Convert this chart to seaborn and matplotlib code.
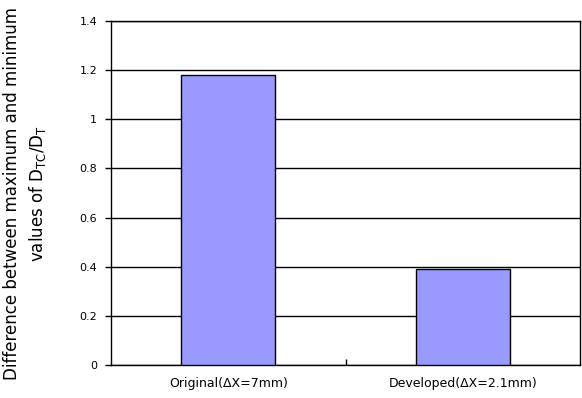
import matplotlib
matplotlib.use("Agg")
import matplotlib.pyplot as plt
import seaborn as sns
import pandas as pd
from matplotlib.ticker import FixedLocator

categories = ["Original(ΔX=7mm)", "Developed(ΔX=2.1mm)"]
values = [1.18, 0.39]
yticks = [0, 0.2, 0.4, 0.6, 0.8, 1, 1.2, 1.4]
ytick_labels = ["0", "0.2", "0.4", "0.6", "0.8", "1", "1.2", "1.4"]

sns.set_theme(style="white")
plt.rcParams['font.family'] = ['DejaVu Sans']
plt.rcParams['text.color'] = 'black'
plt.rcParams['axes.labelcolor'] = 'black'
plt.rcParams['xtick.color'] = 'black'
plt.rcParams['ytick.color'] = 'black'

df = pd.DataFrame({"cat": categories, "val": values})

fig = plt.figure(figsize=(5.82, 3.98), dpi=100)
ax = fig.add_axes([111/582, 33/398, 469/582, 344/398])

sns.barplot(data=df, x="cat", y="val", color="#9999FF", saturation=1,
            width=0.4, edgecolor="black", linewidth=1.0, ax=ax, zorder=3)

ax.set_ylim(0, 1.4)
ax.set_xlim(-0.5, 1.5)
ax.set_yticks(yticks)
ax.set_yticklabels(ytick_labels, fontsize=8)
ax.yaxis.grid(True, color="black", linewidth=1.0, zorder=0)
ax.set_axisbelow(True)
ax.tick_params(axis="y", direction="out", length=4, width=1, color="black", left=True, pad=6,
               labelcolor="black")
ax.tick_params(axis="x", length=0, labelsize=9, pad=9, labelcolor="black")
ax.xaxis.set_minor_locator(FixedLocator([0.5]))
ax.tick_params(axis="x", which="minor", direction="in", length=4, width=1, color="black", bottom=True)

for s in ax.spines.values():
    s.set_color("black")
    s.set_linewidth(1.0)

ax.set_xlabel("")
ax.set_ylabel("Difference between maximum and minimum\nvalues of D$_{\\mathrm{TC}}$/D$_{\\mathrm{T}}$",
              fontsize=12, linespacing=1.35, color="black")
ax.yaxis.set_label_coords(-0.135, 0.5)

fig.savefig("out.png", dpi=100)
